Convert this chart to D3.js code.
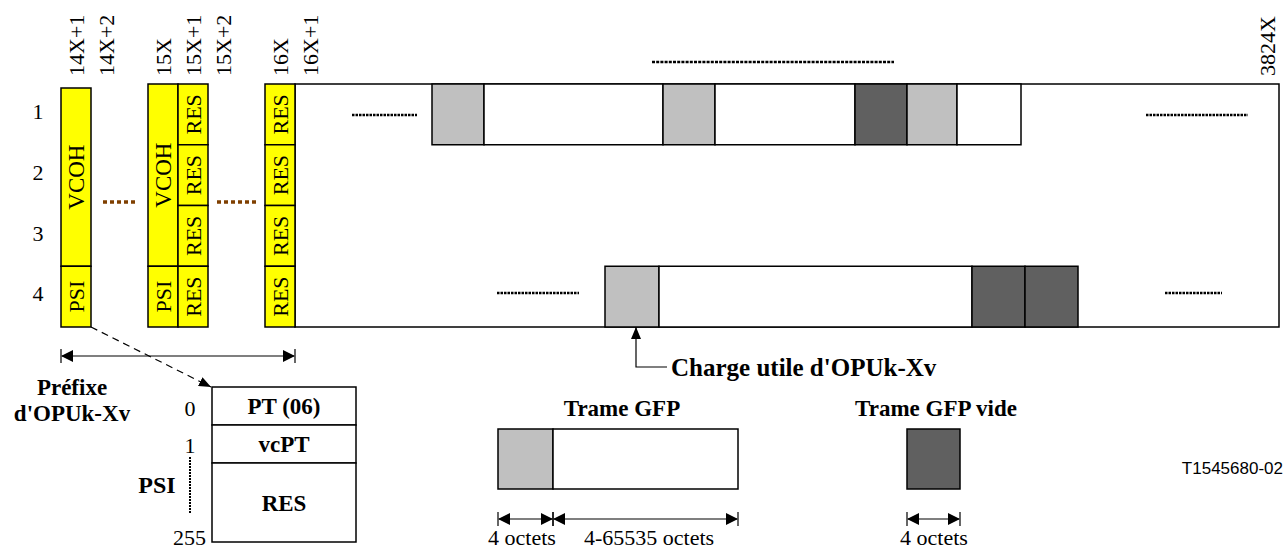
<!DOCTYPE html>
<html><head><meta charset="utf-8">
<script src="https://cdn.jsdelivr.net/npm/d3@7"></script>
<style>
html,body{margin:0;padding:0;background:#fff;}
svg{display:block;}
text{font-family:"Liberation Serif","Times New Roman",serif;fill:#000;}
</style></head>
<body><div id="chart"></div>
<script>
// ---------- data ----------
const colLabels = ["14X+1","14X+2","15X","15X+1","15X+2","16X","16X+1","3824X"];
const colSlots  = [0, 1, 2.9, 3.9, 4.9, 6.8, 7.8, 39.7];
const rowLabels = ["1","2","3","4"];
// overhead columns: slot, cells (rowStart,rowEnd,label)
const ohColumns = [
  {slot:0,   cells:[[0,3,"VCOH"],[3,4,"PSI"]]},
  {slot:2.9, cells:[[0,3,"VCOH"],[3,4,"PSI"]]},
  {slot:3.9, cells:[[0,1,"RES"],[1,2,"RES"],[2,3,"RES"],[3,4,"RES"]]},
  {slot:6.8, cells:[[0,1,"RES"],[1,2,"RES"],[2,3,"RES"],[3,4,"RES"]]}
];
// payload rows: GFP segments (h = core header, p = payload, e = idle frame), units
const row1Types  = ["h","p","h","p","e","h","p"];
const row1Widths = [52,179,52,140,52,50,64];
const row1Start  = 432;
const row4Types  = ["h","p","e","e"];
const row4Widths = [54,313,53,53];
const row4Start  = 605;
const psiFields  = ["PT (06)","vcPT","RES"];
const psiIndex   = ["0","1","255"];
const gfpParts   = ["4 octets","4-65535 octets"];
const idleParts  = ["4 octets"];
const figureId   = "T1545680-02";

// ---------- setup ----------
const W = 1287, H = 551;
const svg = d3.select("#chart").append("svg").attr("width",W).attr("height",H);
const x = d3.scaleLinear().domain([0,W]).range([0,W]);
const slotX = d3.scaleLinear().domain([0,1]).range([61,91]);
const rowY = d3.scaleLinear().domain([0,4]).range([84,327]);
const fill = {h:"#c0c0c0", p:"#ffffff", e:"#606060"};

const defs = svg.append("defs");
defs.append("marker").attr("id","ah").attr("viewBox","0 0 12 10").attr("refX",12).attr("refY",5)
  .attr("markerWidth",12).attr("markerHeight",10).attr("markerUnits","userSpaceOnUse").attr("orient","auto")
  .append("path").attr("d","M0,0 L12,5 L0,10 Z").attr("fill","#000");

// ---------- column labels ----------
colLabels.forEach((l,i)=>{
  const cx = slotX(colSlots[i]) + 15;
  svg.append("text").attr("transform",`translate(${cx},76) rotate(-90)`)
    .attr("dy","0.35em").attr("font-size",22).text(l);
});
// row labels
rowLabels.forEach((l,i)=>{
  svg.append("text").attr("x",38).attr("y",rowY(i)+(rowY(i+1)-rowY(i))*0.45).attr("dy","0.35em")
    .attr("text-anchor","middle").attr("font-size",22).text(l);
});

// ---------- big frame ----------
svg.append("rect").attr("x",slotX(7.8)).attr("y",rowY(0)).attr("width",x(1279)-slotX(7.8))
  .attr("height",rowY(4)-rowY(0)).attr("fill","#fff").attr("stroke","#000").attr("stroke-width",1.5);

// ---------- overhead columns ----------
ohColumns.forEach(c=>{
  c.cells.forEach(([r0,r1,lab])=>{
    const x0 = slotX(c.slot), x1 = slotX(c.slot+1);
    const y0 = (c.slot===0 && r0===0) ? rowY(0)+4 : rowY(r0), y1 = rowY(r1);
    svg.append("rect").attr("x",x0).attr("y",y0).attr("width",x1-x0).attr("height",y1-y0)
      .attr("fill","#ffff00").attr("stroke","#000").attr("stroke-width",1.5);
    svg.append("text").attr("transform",`translate(${(x0+x1)/2},${(y0+y1)/2}) rotate(-90)`)
      .attr("text-anchor","middle").attr("dy","0.35em").attr("font-size",lab==="VCOH"?23:22).text(lab);
  });
});

// ---------- payload segments ----------
function drawRow(types, widths, start, r){
  let cur = start;
  const y0 = rowY(r), y1 = rowY(r+1);
  types.forEach((t,i)=>{
    svg.append("rect").attr("x",x(cur)).attr("y",y0).attr("width",x(cur+widths[i])-x(cur))
      .attr("height",y1-y0).attr("fill",fill[t]).attr("stroke","#000").attr("stroke-width",1.5);
    cur += widths[i];
  });
}
drawRow(row1Types,row1Widths,row1Start,0);
drawRow(row4Types,row4Widths,row4Start,3);

// ---------- dotted lines ----------
function dots(x0,x1,y,color,w,dash){
  svg.append("line").attr("x1",x(x0)).attr("x2",x(x1)).attr("y1",y).attr("y2",y)
    .attr("stroke",color).attr("stroke-width",w).attr("stroke-dasharray",dash);
}
dots(652,894,62,"#000",2.5,"3,1.2");
dots(352,417,115,"#000",2.5,"2.5,1");
dots(1146,1248,115,"#000",2.5,"2.5,1");
dots(497,579,293,"#000",2.5,"2.5,1");
dots(1165,1222,293,"#000",2.5,"2.5,1");
dots(103,137,202,"#7f3f00",3.5,"4,3");
dots(217,259,202,"#7f3f00",3.5,"4,3");

// ---------- prefix dimension ----------
function dimArrow(x0,x1,y){
  svg.append("line").attr("x1",x0+1).attr("x2",x1-1).attr("y1",y).attr("y2",y).attr("stroke","#000").attr("stroke-width",1.2);
  svg.append("path").attr("d",`M${x0},${y} l12,-6 l0,12 Z`).attr("fill","#000");
  svg.append("path").attr("d",`M${x1},${y} l-12,-6 l0,12 Z`).attr("fill","#000");
  [x0,x1].forEach(xx=>svg.append("line").attr("x1",xx).attr("x2",xx).attr("y1",y-7).attr("y2",y+7).attr("stroke","#000").attr("stroke-width",1.2));
}
dimArrow(slotX(0),slotX(7.8),356);

svg.append("text").attr("x",72).attr("y",395).attr("text-anchor","middle").attr("font-weight","bold").attr("font-size",23).text("Préfixe");
svg.append("text").attr("x",72).attr("y",421).attr("text-anchor","middle").attr("font-weight","bold").attr("font-size",23).text("d'OPUk-Xv");

// dashed pointer to PSI box
svg.append("line").attr("x1",slotX(1)).attr("y1",rowY(4)).attr("x2",211).attr("y2",387)
  .attr("stroke","#000").attr("stroke-width",1.2).attr("stroke-dasharray","7,5").attr("marker-end","url(#ah)");

// ---------- PSI box ----------
const psiY = d3.scaleOrdinal().domain(psiFields).range([[387,425],[425,463],[463,542]]);
psiFields.forEach((f)=>{
  const [y0,y1] = psiY(f);
  svg.append("rect").attr("x",212).attr("y",y0).attr("width",144).attr("height",y1-y0)
    .attr("fill","#fff").attr("stroke","#000").attr("stroke-width",1.5);
  svg.append("text").attr("x",284).attr("y",(y0+y1)/2).attr("dy","0.35em").attr("text-anchor","middle")
    .attr("font-weight","bold").attr("font-size",23).text(f);
});
svg.append("text").attr("x",190).attr("y",408).attr("dy","0.35em").attr("text-anchor","middle").attr("font-size",22).text(psiIndex[0]);
svg.append("text").attr("x",190).attr("y",445).attr("dy","0.35em").attr("text-anchor","middle").attr("font-size",22).text(psiIndex[1]);
svg.append("text").attr("x",206).attr("y",537).attr("dy","0.35em").attr("text-anchor","end").attr("font-size",22).text(psiIndex[2]);
svg.append("line").attr("x1",190).attr("x2",190).attr("y1",457).attr("y2",514).attr("stroke","#000").attr("stroke-width",2).attr("stroke-dasharray","2,1");
svg.append("text").attr("x",157).attr("y",485).attr("dy","0.35em").attr("text-anchor","middle").attr("font-weight","bold").attr("font-size",24).text("PSI");

// ---------- Charge utile pointer ----------
svg.append("path").attr("d",`M${x(667)},367 L${x(636)},367 L${x(636)},${rowY(4)}`).attr("fill","none")
  .attr("stroke","#000").attr("stroke-width",1.2).attr("marker-end","url(#ah)");
svg.append("text").attr("x",x(671)).attr("y",367).attr("dy","0.35em").attr("font-weight","bold").attr("font-size",25).text("Charge utile d'OPUk-Xv");

// ---------- legend: GFP frame ----------
svg.append("text").attr("x",x(622)).attr("y",416).attr("text-anchor","middle").attr("font-weight","bold").attr("font-size",23).text("Trame GFP");
svg.append("rect").attr("x",x(498)).attr("y",429).attr("width",x(553)-x(498)).attr("height",60).attr("fill",fill.h).attr("stroke","#000").attr("stroke-width",1.5);
svg.append("rect").attr("x",x(553)).attr("y",429).attr("width",x(738)-x(553)).attr("height",60).attr("fill",fill.p).attr("stroke","#000").attr("stroke-width",1.5);
dimArrow(x(498),x(553),519);
dimArrow(x(553),x(738),519);
svg.append("text").attr("x",x(522)).attr("y",545).attr("text-anchor","middle").attr("font-size",22).text(gfpParts[0]);
svg.append("text").attr("x",x(649)).attr("y",545).attr("text-anchor","middle").attr("font-size",22).text(gfpParts[1]);

svg.append("text").attr("x",x(936)).attr("y",416).attr("text-anchor","middle").attr("font-weight","bold").attr("font-size",23).text("Trame GFP vide");
svg.append("rect").attr("x",x(907)).attr("y",429).attr("width",x(960)-x(907)).attr("height",60).attr("fill",fill.e).attr("stroke","#000").attr("stroke-width",1.5);
dimArrow(x(907),x(960),519);
svg.append("text").attr("x",x(934)).attr("y",545).attr("text-anchor","middle").attr("font-size",22).text(idleParts[0]);

svg.append("text").attr("x",1283).attr("y",468).attr("dy","0.35em").attr("text-anchor","end")
  .style("font-family","'Liberation Sans',Arial,sans-serif").attr("font-size",17).text(figureId);
</script></body></html>
